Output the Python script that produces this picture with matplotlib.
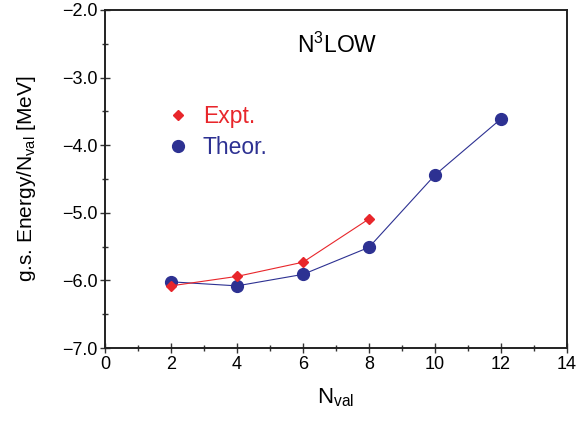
import numpy as np
import matplotlib
matplotlib.use("Agg")
import matplotlib.pyplot as plt
from matplotlib.lines import Line2D
from matplotlib.ticker import MultipleLocator, FuncFormatter

plt.rcParams['font.family'] = ['Liberation Sans', 'DejaVu Sans']
plt.rcParams['mathtext.default'] = 'regular'

# ground-state energy per valence nucleon
n_expt = [2, 4, 6, 8]
e_expt = [-6.08, -5.94, -5.73, -5.09]
n_theor = [2, 4, 6, 8, 10, 12]
e_theor = [-6.02, -6.08, -5.91, -5.51, -4.44, -3.61]

red = '#e8262b'
blue = '#2d3192'

fig = plt.figure(figsize=(5.8, 4.25), dpi=100)
ax = fig.add_axes([0.181, 0.181, 0.7966, 0.7955])

ax.plot(n_expt, e_expt, color=red, lw=0.8, marker='D', ms=5.5, zorder=3)
ax.plot(n_theor, e_theor, color=blue, lw=0.8, marker='o', ms=8.5, zorder=2)

ax.set_xlim(0, 14)
ax.set_ylim(-7, -2)
ax.xaxis.set_major_locator(MultipleLocator(2))
ax.xaxis.set_minor_locator(MultipleLocator(1))
ax.yaxis.set_major_locator(MultipleLocator(1))
ax.yaxis.set_minor_locator(MultipleLocator(0.5))
ax.yaxis.set_major_formatter(FuncFormatter(lambda v, p: f'{v:.1f}'.replace('-', '\u2212')))

ax.tick_params(which='both', direction='inout', top=False, right=False,
               labelsize=13, width=1.0, color='#333333')
ax.tick_params(which='major', length=7, pad=2)
ax.tick_params(which='minor', length=4)
for s in ax.spines.values():
    s.set_linewidth(1.4)
    s.set_color('#222222')

ax.set_xlabel('N$_{val}$', fontsize=16, labelpad=10)
ax.set_ylabel('g.s. Energy/N$_{val}$ [MeV]', fontsize=15, labelpad=17)

ax.text(7.03, -2.52, 'N$^{3}$LOW', fontsize=16.5, ha='center', va='center')

handles = [Line2D([], [], ls='none', marker='D', ms=5.5, color=red),
           Line2D([], [], ls='none', marker='o', ms=8.5, color=blue)]
leg = ax.legend(handles, ['Expt.', 'Theor.'], loc='upper left',
                bbox_to_anchor=(0.088, 0.78), frameon=False, fontsize=16.5,
                handlelength=1.0, handletextpad=0.6, labelspacing=0.35,
                labelcolor=[red, blue])

fig.savefig('out.png', dpi=100)
